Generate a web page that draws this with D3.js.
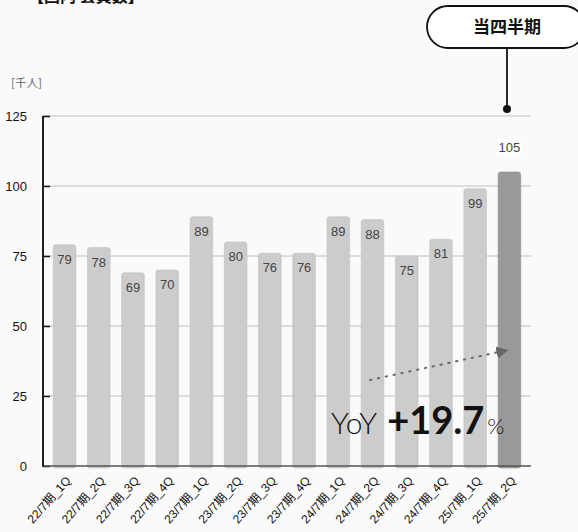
<!DOCTYPE html>
<html><head><meta charset="utf-8">
<script src="https://cdn.jsdelivr.net/npm/d3@7"></script>
<style>
body{margin:0;background:#fafafa;}
svg{display:block;font-family:"Noto Sans CJK JP","Liberation Sans",sans-serif;}
</style></head>
<body>
<script>
const categories = ["22/7期_1Q","22/7期_2Q","22/7期_3Q","22/7期_4Q","23/7期_1Q","23/7期_2Q","23/7期_3Q","23/7期_4Q","24/7期_1Q","24/7期_2Q","24/7期_3Q","24/7期_4Q","25/7期_1Q","25/7期_2Q"];
const members = [79,78,69,70,89,80,76,76,89,88,75,81,99,105];
const yTicks = [0,25,50,75,100,125];
const unitLabel = "[千人]";
const titleText = "【国内 会員数】";
const calloutText = "当四半期";
const yoyText = "+19.7";

const W = 578, H = 532;
const svg = d3.select("body").append("svg").attr("width", W).attr("height", H);
svg.append("rect").attr("width", W).attr("height", H).attr("fill", "#fafafa");

const x = d3.scaleBand().domain(categories).range([43, 531]).paddingInner(0.34).paddingOuter(0.3);
const y = d3.scaleLinear().domain([0, 125]).range([466, 116]);

// title (mostly clipped, as in the reference)
svg.append("text").attr("x", 28).attr("y", 2).attr("font-size", 16).attr("font-weight", "bold").attr("fill", "#111").text(titleText);

// unit
svg.append("text").attr("x", 11).attr("y", 87).attr("font-size", 11.5).attr("fill", "#666").text(unitLabel);

// grid lines
svg.append("g").selectAll("line").data(yTicks.filter(d => d > 0)).join("line")
  .attr("x1", 43).attr("x2", 531).attr("y1", d => y(d)).attr("y2", d => y(d))
  .attr("stroke", "#bdbdbd").attr("stroke-width", 1.2);

// y axis
const yAxis = d3.axisLeft(y).tickValues(yTicks).tickSize(-7).tickPadding(16);
const gy = svg.append("g").attr("transform", "translate(43,0)").call(yAxis);
gy.select(".domain").attr("stroke", "#111").attr("stroke-width", 1.5).attr("d", "M0,116V466");
gy.selectAll(".tick line").attr("stroke", "#111").attr("stroke-width", 1.5);
gy.selectAll(".tick text").attr("font-size", 13).attr("fill", "#111").attr("font-family", "Liberation Sans, sans-serif").attr("dy", "0.35em");

// bars
const last = categories.length - 1;
svg.append("g").selectAll("rect").data(members).join("rect")
  .attr("x", (d, i) => x(categories[i]))
  .attr("y", d => y(d))
  .attr("width", x.bandwidth())
  .attr("height", d => y(0) - y(d) + 2)
  .attr("rx", 2.5)
  .attr("fill", (d, i) => i === last ? "#999999" : "#cccccc")
  .attr("stroke", (d, i) => i === last ? "#8e8e8e" : "#c0c0c0")
  .attr("stroke-width", 0.6);

// x axis line
svg.append("line").attr("x1", 43).attr("x2", 531).attr("y1", 466).attr("y2", 466)
  .attr("stroke", "#555").attr("stroke-width", 1.5);
svg.append("line").attr("x1", 43).attr("x2", 43).attr("y1", 116).attr("y2", 467)
  .attr("stroke", "#111").attr("stroke-width", 1.5);

// value labels
const lg = svg.append("g").attr("font-family", "Liberation Sans, Arial, sans-serif").attr("font-size", 13).attr("fill", "#444").attr("text-anchor", "middle");
members.forEach((d, i) => {
  const cx = x(categories[i]) + x.bandwidth() / 2;
  if (i === last) {
    lg.append("rect").attr("x", cx - 13).attr("y", y(d) - 33).attr("width", 26).attr("height", 17).attr("rx", 5).attr("fill", "#ffffff");
    lg.append("text").attr("x", cx).attr("y", y(d) - 20).text(d);
  } else {
    lg.append("text").attr("x", cx).attr("y", y(d) + 19).text(d);
  }
});

// x labels
svg.append("g").selectAll("text").data(categories).join("text")
  .attr("transform", d => `translate(${x(d) + x.bandwidth() / 2 + 7},${481}) rotate(-48)`)
  .attr("text-anchor", "end").attr("font-size", 12).attr("fill", "#111")
  .attr("font-family", "Liberation Sans, Noto Sans CJK JP, sans-serif")
  .text(d => d);

// callout
svg.append("rect").attr("x", 427).attr("y", 6).attr("width", 158).attr("height", 42).attr("rx", 21)
  .attr("fill", "#fff").attr("stroke", "#111").attr("stroke-width", 1.8);
svg.append("text").attr("x", 507).attr("y", 33).attr("text-anchor", "middle").attr("font-size", 17)
  .attr("font-weight", "bold").attr("fill", "#111").text(calloutText);
svg.append("line").attr("x1", 507).attr("x2", 507).attr("y1", 48).attr("y2", 109).attr("stroke", "#111").attr("stroke-width", 1.8);
svg.append("circle").attr("cx", 507).attr("cy", 109).attr("r", 4).attr("fill", "#111");

// dotted arrow
svg.append("defs").append("marker").attr("id", "ah").attr("viewBox", "0 0 10 10").attr("refX", 2).attr("refY", 5)
  .attr("markerWidth", 6).attr("markerHeight", 6).attr("orient", "auto")
  .append("path").attr("d", "M0,0L10,5L0,10Z").attr("fill", "#666");
svg.append("line").attr("x1", 370).attr("y1", 380).attr("x2", 499).attr("y2", 352)
  .attr("stroke", "#6a6a6a").attr("stroke-width", 2).attr("stroke-dasharray", "1.5,6.5")
  .attr("stroke-linecap", "round").attr("marker-end", "url(#ah)");

// YoY text
const yt = svg.append("text").attr("x", 331).attr("y", 434).attr("fill", "#111").attr("font-family", "Lato, Open Sans, sans-serif");
yt.append("tspan").attr("font-size", 30).attr("font-weight", 300).text("YoY");
yt.append("tspan").attr("font-size", 38).attr("font-weight", "bold").attr("dx", 10).text(yoyText);
yt.append("tspan").attr("font-size", 22).attr("font-weight", 300).attr("dx", 3).text("%");
</script>
</body></html>
